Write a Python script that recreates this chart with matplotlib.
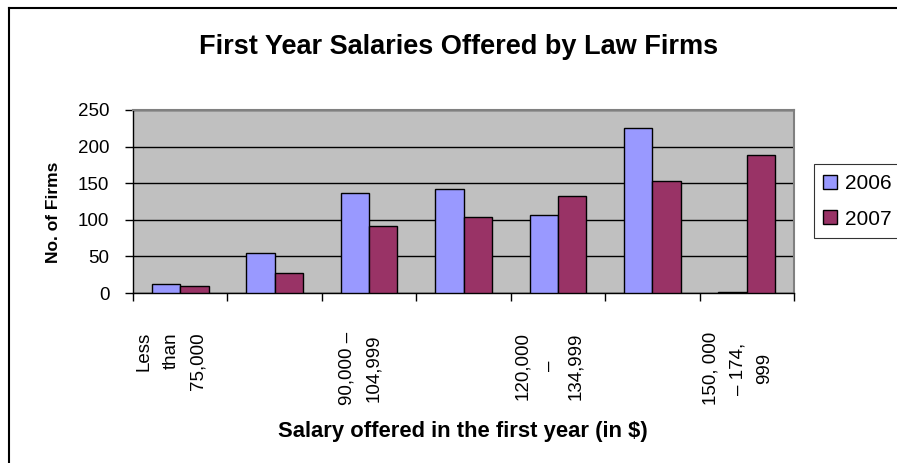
import matplotlib
matplotlib.use("Agg")
import matplotlib.pyplot as plt
import matplotlib.transforms as mtransforms
from matplotlib import font_manager as fm
from matplotlib.lines import Line2D
import numpy as np

# ---------------- data ----------------
categories = ["Less than 75,000", "75,000 - 89,999", "90,000 - 104,999",
              "105,000 - 119,999", "120,000 - 134,999", "135,000 - 149,999",
              "150,000 - 174,999"]
tick_labels = ["Less\nthan\n75,000", "", "90,000 \u2013\n104,999", "",
               "120,000\n\u2013\n134,999", "", "150, 000\n\u2013 174,\n999"]
series_names = ["2006", "2007"]
values_2006 = [12, 55, 137, 142, 106, 226, 2]
values_2007 = [9, 27, 91, 104, 132, 153, 188]
y_ticks = [0, 50, 100, 150, 200, 250]

title_text = "First Year Salaries Offered by Law Firms"
xlabel_text = "Salary offered in the first year (in $)"
ylabel_text = "No. of Firms"


def has_font(name):
    try:
        fm.findfont(fm.FontProperties(family=name), fallback_to_default=False)
        return True
    except Exception:
        return False


BASE = "Liberation Sans" if has_font("Liberation Sans") else "DejaVu Sans"
NARROW = "Liberation Sans Narrow" if has_font("Liberation Sans Narrow") else None
plt.rcParams["font.family"] = [BASE, "DejaVu Sans"]

W, H = 897, 463
fig = plt.figure(figsize=(W / 100, H / 100), dpi=100)
fig.patch.set_facecolor("white")

L, R, T, B = 133, 794, 110, 293
ax = fig.add_axes([L / W, 1 - B / H, (R - L) / W, (B - T) / H])
ax.set_facecolor("#C0C0C0")

x = np.arange(len(categories))
bw = 0.30
c2006 = "#9999FF"
c2007 = "#993366"
ax.bar(x - bw / 2, values_2006, bw, color=c2006, edgecolor="black",
       linewidth=1.0, label=series_names[0], zorder=3)
ax.bar(x + bw / 2, values_2007, bw, color=c2007, edgecolor="black",
       linewidth=1.0, label=series_names[1], zorder=3)

ax.set_xlim(-0.5, len(categories) - 0.5)
ax.set_ylim(0, 250)

# gridlines
ax.set_yticks(y_ticks)
ax.yaxis.grid(True, color="black", linewidth=1.0, zorder=1)
ax.set_axisbelow(True)

# spines
for s in ["left", "bottom"]:
    ax.spines[s].set_color("black")
    ax.spines[s].set_linewidth(1.0)
for s in ["top", "right"]:
    ax.spines[s].set_color("#808080")
    ax.spines[s].set_linewidth(1.5)

# y ticks
ax.tick_params(axis="y", direction="out", length=6, width=1, color="black",
               pad=11, labelsize=13.5)

# x ticks: major at category boundaries (no labels), minor at centres (labels)
ax.set_xticks(np.arange(len(categories) + 1) - 0.5)
ax.set_xticklabels([])
ax.tick_params(axis="x", which="major", direction="out", length=6, width=1,
               color="black")
ax.set_xticks(x, minor=True)
if NARROW:
    xfont = dict(family=[NARROW, BASE], size=16)
else:
    xfont = dict(family=[BASE], size=13.5)
ax.set_xticklabels(tick_labels, minor=True, rotation=90, va="top",
                   ha="center", multialignment="center", linespacing=1.75,
                   **xfont)
ax.tick_params(axis="x", which="minor", length=0, pad=28)
offset = mtransforms.ScaledTranslation(-9 / 100, 0, fig.dpi_scale_trans)
for i, lab in enumerate(ax.get_xticklabels(minor=True)):
    lab.set_transform(lab.get_transform() + offset)
    if i == 0:
        lab.set_multialignment("right")

# axis labels
ax.set_ylabel(ylabel_text, fontsize=12.5, fontweight="bold",
              family=[NARROW, BASE] if NARROW else [BASE])
ax.yaxis.set_label_coords(53 / W, 1 - 212 / H, transform=fig.transFigure)
ax.yaxis.label.set_va("center")
ax.yaxis.label.set_ha("center")

ax.set_xlabel(xlabel_text, fontsize=15.8, fontweight="bold")
ax.xaxis.set_label_coords(463 / W, 1 - 431 / H, transform=fig.transFigure)
ax.xaxis.label.set_va("center")

# title
fig.suptitle(title_text, x=459 / W, y=1 - 47 / H, ha="center", va="center",
             fontsize=19.5, fontweight="bold")

# legend
leg = fig.legend(loc="upper left", bbox_to_anchor=(814 / W, 1 - 164.5 / H),
                 frameon=True, fancybox=False, shadow=False, fontsize=15,
                 handlelength=0.65, handleheight=0.65, handletextpad=0.4,
                 labelspacing=0.8, borderpad=0.45, borderaxespad=0)
leg.get_frame().set_edgecolor("black")
leg.get_frame().set_linewidth(0.8)

# outer chart border (left and top visible)
fig.add_artist(Line2D([9 / W, 9 / W], [0, 1 - 8 / H], color="black",
                      linewidth=1.5, transform=fig.transFigure))
fig.add_artist(Line2D([9 / W, 1], [1 - 8 / H, 1 - 8 / H], color="black",
                      linewidth=1.5, transform=fig.transFigure))

fig.savefig("out.png", dpi=100)
